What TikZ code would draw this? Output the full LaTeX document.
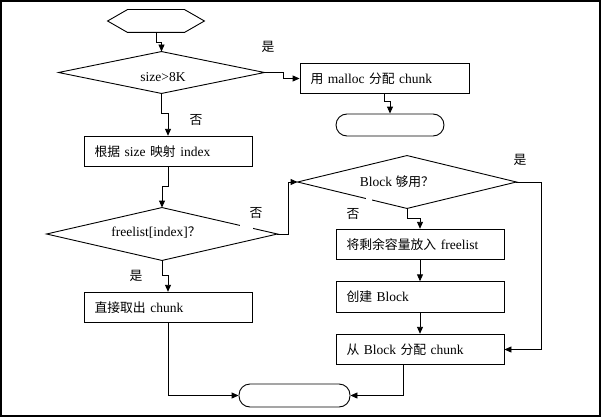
\documentclass[tikz,border=0pt]{standalone}
\usepackage{fontspec}
\setmainfont{Liberation Serif}
\newfontfamily\cjk[Scale=0.95]{Noto Sans CJK SC}
\usetikzlibrary{arrows.meta,calc}
\begin{document}
\begin{tikzpicture}[x=1pt,y=-1pt,
  font=\fontsize{13.5}{15}\selectfont,
  line width=0.9pt,
  arr/.style={-{Triangle[length=7pt,width=6pt]}},
  procbox/.style={draw,minimum height=30.5pt,inner sep=0pt,text width=147pt,align=left,inner xsep=10.5pt},
  frame/.style={draw=none,inner sep=0pt},
  term/.style={draw,rounded corners=11pt,inner sep=0pt},
  lbl/.style={inner sep=0pt,font=\cjk\fontsize{13.5}{15}\selectfont}
]
\useasboundingbox (0,0) rectangle (601,417);
\draw[line width=1.6pt] (0.8,0.8) rectangle (599.8,415.8);

% start hexagon
\node[frame,minimum width=96pt,minimum height=22pt] (hex) at (156,21) {};
\draw (hex.west) -- ($(hex.north west)+(20,0)$) -- ($(hex.north east)+(-20,0)$) -- (hex.east)
      -- ($(hex.south east)+(-20,0)$) -- ($(hex.south west)+(20,0)$) -- cycle;

% diamond 1
\node[frame,minimum width=205pt,minimum height=41pt] (d1) at (161.5,72.5) {};
\draw (d1.west) -- (d1.north) -- (d1.east) -- (d1.south) -- cycle;
\node[inner sep=0pt] (d1t) at (163,77) {size>8K};

% malloc box
\node[procbox,minimum width=169pt,text width=148pt] (m) at (384.5,78.5) {{\cjk 用} malloc {\cjk 分配} chunk};
% top terminator
\node[term,minimum width=108pt,minimum height=22pt] (t1) at (390,125) {};

% index box
\node[procbox,minimum width=168pt] (b1) at (168,151.5) {{\cjk 根据} size {\cjk 映射} index};

% diamond 2
\node[frame,minimum width=230pt,minimum height=52pt] (d2) at (162,234) {};
\draw (d2.west) -- (d2.north) -- (d2.east) -- (d2.south) -- cycle;
\node[inner sep=0pt] (d2t) at (156,233) {freelist[index]{\cjk ？}};

% diamond 3
\node[frame,minimum width=218pt,minimum height=52pt] (d3) at (407,182) {};
\draw (d3.west) -- (d3.north) -- (d3.east) -- (d3.south) -- cycle;
\node[inner sep=0pt] (d3t) at (397,182) {Block {\cjk 够用？}};

% right column boxes
\node[procbox,minimum width=168pt] (b3) at (420,244.5) {{\cjk 将剩余容量放入} freelist};
\node[procbox,minimum width=168pt,inner xsep=9pt] (b4) at (420,297) {{\cjk 创建} Block};
\node[procbox,minimum width=168pt,inner xsep=9pt] (b5) at (420,349.5) {{\cjk 从} Block {\cjk 分配} chunk};

% left lower box
\node[procbox,minimum width=168pt] (b2) at (168,307.5) {{\cjk 直接取出} chunk};

% bottom terminator
\node[term,minimum width=111pt,minimum height=23pt] (t2) at (294.5,395.5) {};

% gaps in diamond edges
\fill[white] (239.5,221) rectangle (252.5,232);
\fill[white] (365.5,194) rectangle (371.5,203);

% labels
\node[lbl] (l1) at (268,47) {是};
\node[lbl] (l2) at (196,120) {否};
\node[lbl] (l3) at (256,213) {否};
\node[lbl] (l4) at (136,276) {是};
\node[lbl] (l5) at (520,160) {是};
\node[lbl] (l6) at (353,214) {否};

% connectors
\draw[arr] (hex.south) -- ++(0,10) -| (d1.north);
\draw[arr] (d1.east) -- ++(19,0) |- (m.west);
\draw[arr] (m.south) -- ++(0,7) -| (t1.north);
\draw[arr] (d1.south) -- ++(0,20) -| (b1.north);
\draw[arr] (b1.south) -- ++(0,19) -| (d2.north);
\draw[arr] (d2.east) -- ++(11,0) |- (d3.west);
\draw[arr] (d2.south) -- ++(0,15) -| (b2.north);
\draw[arr] (b2.south) |- (t2.west);
\draw[arr] (d3.south) -- ++(0,10) -| (b3.north);
\draw[arr] (b3.south) -- (b4.north);
\draw[arr] (b4.south) -- (b5.north);
\draw[arr] (d3.east) -- ++(25,0) |- (b5.east);
\coordinate (b5o) at ($(b5.south)+(-17,0)$);
\draw[arr] (b5o) |- (t2.east);
\end{tikzpicture}
\end{document}
